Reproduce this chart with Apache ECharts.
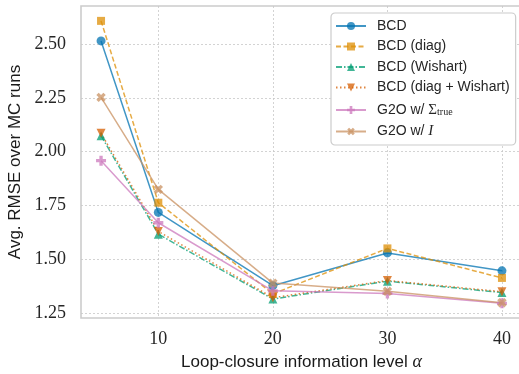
<!DOCTYPE html>
<html>
<head>
<meta charset="utf-8">
<script src="https://cdn.jsdelivr.net/npm/echarts@6/dist/echarts.min.js"></script>
<style>
  html, body { margin: 0; padding: 0; background: #fff; }
  #main { width: 519px; height: 374px; }
</style>
</head>
<body>
<div id="main"></div>
<script>
var alphaLevels = [5, 10, 20, 30, 40];
var xTicks = [10, 20, 30, 40];
var yTicks = [1.25, 1.5, 1.75, 2.0, 2.25, 2.5];

var bcd            = [2.514, 1.718, 1.378, 1.530, 1.447];
var bcdDiag        = [2.607, 1.763, 1.340, 1.551, 1.414];
var bcdWishart     = [2.074, 1.617, 1.316, 1.399, 1.346];
var bcdDiagWishart = [2.085, 1.630, 1.322, 1.402, 1.350];
var g2oTrue        = [1.958, 1.670, 1.354, 1.342, 1.296];
var g2oIdentity    = [2.252, 1.825, 1.390, 1.352, 1.299];

var plusPath = 'path://M-1,-3H1V-1H3V1H1V3H-1V1H-3V-1H-1Z';

function pairs(ys) {
    return alphaLevels.map(function (x, i) { return [x, ys[i]]; });
}

function makeSeries(name, ys, color, lineType, symbol, rotate, size) {
    return {
        name: name,
        type: 'line',
        data: pairs(ys),
        symbol: symbol,
        symbolRotate: rotate,
        symbolSize: size,
        showAllSymbol: true,
        lineStyle: { color: color, width: 1.5, type: lineType, opacity: 0.75 },
        itemStyle: { color: color, opacity: 0.75 },
        emphasis: { disabled: true },
        animation: false
    };
}

var myChart = echarts.init(document.getElementById('main'));
var option = {
    backgroundColor: '#fff',
    grid: {
        left: 81, top: 6, right: -3, bottom: 56,
        outerBoundsMode: 'none', containLabel: false,
        show: true, borderColor: '#cccccc', borderWidth: 1.6
    },
    legend: {
        orient: 'vertical',
        left: 331, top: 13,
        itemWidth: 30, itemHeight: 10, itemGap: 6.5,
        padding: [6, 6, 6, 4],
        backgroundColor: '#fff',
        borderColor: '#cccccc', borderWidth: 1.2, borderRadius: 4,
        formatter: function (name) {
            if (name === 'G2O w/ Σtrue') return 'G2O w/ {m|Σ}{s|true}';
            if (name === 'G2O w/ I') return 'G2O w/ {i|I}';
            return name;
        },
        textStyle: {
            fontFamily: 'Liberation Sans', fontSize: 14, color: '#262626', lineHeight: 14,
            padding: [0, 0, 0, 6],
            rich: {
                m: { fontFamily: 'Liberation Serif', fontSize: 15, lineHeight: 14 },
                s: { fontFamily: 'Liberation Serif', fontSize: 10, lineHeight: 14, verticalAlign: 'bottom', padding: [6, 0, 0, 0] },
                i: { fontFamily: 'Liberation Serif', fontStyle: 'italic', fontSize: 15, lineHeight: 14 }
            }
        }
    },
    xAxis: {
        type: 'value', min: 3.25, max: 41.75,
        name: 'Loop-closure information level {a|α}',
        nameLocation: 'middle', nameGap: 20,
        nameTextStyle: {
            fontFamily: 'Liberation Sans', fontSize: 17, color: '#1a1a1a',
            rich: { a: { fontFamily: 'Liberation Serif', fontStyle: 'italic', fontSize: 18, color: '#1a1a1a' } }
        },
        axisLine: { show: false },
        axisTick: { show: false, customValues: xTicks },
        axisLabel: {
            customValues: xTicks, margin: 12,
            fontFamily: 'Liberation Serif', fontSize: 18, color: '#262626'
        },
        splitLine: { show: true, lineStyle: { color: '#c8c8c8', width: 0.8, type: [2, 2] } }
    },
    yAxis: {
        type: 'value', min: 1.228, max: 2.676,
        name: 'Avg. RMSE over MC runs',
        nameLocation: 'middle', nameGap: 48, nameRotate: 90,
        nameTextStyle: { fontFamily: 'Liberation Sans', fontSize: 17, color: '#1a1a1a' },
        axisLine: { show: false },
        axisTick: { show: false, customValues: yTicks },
        axisLabel: {
            customValues: yTicks, margin: 15,
            fontFamily: 'Liberation Serif', fontSize: 18, color: '#262626',
            formatter: function (v) { return v.toFixed(2); }
        },
        splitLine: { show: true, lineStyle: { color: '#c8c8c8', width: 0.8, type: [2, 2] } }
    },
    series: [
        makeSeries('BCD', bcd, '#0173b2', 'solid', 'circle', 0, 9),
        makeSeries('BCD (diag)', bcdDiag, '#de8f05', [5, 2.5], 'rect', 0, 8),
        makeSeries('BCD (Wishart)', bcdWishart, '#029e73', [6, 2, 1.5, 2], 'triangle', 0, 9),
        makeSeries('BCD (diag + Wishart)', bcdDiagWishart, '#d55e00', [1.5, 2.5], 'triangle', 180, 9),
        makeSeries('G2O w/ Σtrue', g2oTrue, '#cc78bc', 'solid', plusPath, 0, 10),
        makeSeries('G2O w/ I', g2oIdentity, '#ca9161', 'solid', plusPath, 45, 10)
    ]
};
myChart.setOption(option);
</script>
</body>
</html>
